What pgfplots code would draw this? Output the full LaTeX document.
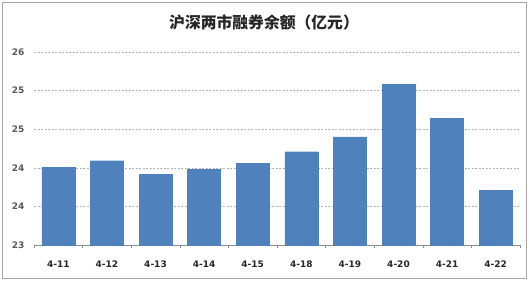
\documentclass[border=0pt]{standalone}
\usepackage{pgfplots}
\pgfplotsset{compat=1.18}
\usepackage{fontspec}
\setmainfont{DejaVu Sans}
\newfontfamily\cjk{Noto Sans CJK SC}
\definecolor{barblue}{HTML}{4F81BD}
\definecolor{gridgray}{HTML}{B3B3B3}
\definecolor{labgray}{HTML}{595959}
\begin{document}
\begin{tikzpicture}
\path (0,0) rectangle (529bp,281bp);
\draw[color=black!35, line width=0.8bp] (2bp,3bp) rectangle (526bp,279bp);
\node[font=\cjk\bfseries\fontsize{15.8bp}{18bp}\selectfont, text=black!85] at (264bp,259bp) {沪深两市融券余额（亿元）};
\begin{axis}[
  at={(34bp,36bp)}, anchor=south west,
  scale only axis, width=486bp, height=193bp,
  ymin=23, ymax=26,
  xmin=-0.5, xmax=9.5,
  ytick={23,23.6,24.2,24.8,25.4,26},
  yticklabels={23,24,24,25,25,26},
  xtick={0,...,9},
  xticklabels={4-11,4-12,4-13,4-14,4-15,4-18,4-19,4-20,4-21,4-22},
  minor xtick={-0.5,0.5,...,9.5},
  major tick length=0pt,
  minor tick length=3bp,
  tick align=outside,
  tick style={color=black!45, line width=0.6bp},
  axis x line*=bottom,
  axis y line*=left,
  ymajorgrids,
  grid style={color=gridgray, dash pattern=on 2bp off 1.5bp, line width=0.6bp},
  x axis line style={draw=black!45, line width=0.8bp},
  y axis line style={draw=none},
  xticklabel style={font=\bfseries\fontsize{9bp}{10bp}\selectfont, text=black!85, yshift=-12bp},
  yticklabel style={font=\bfseries\fontsize{9bp}{10bp}\selectfont, text=labgray, xshift=-6bp},
  ybar, bar width=33bp,
  clip=false,
]
\addplot[fill=barblue, draw=barblue] coordinates {
(0,24.21) (1,24.31) (2,24.10) (3,24.18) (4,24.27)
(5,24.45) (6,24.68) (7,25.50) (8,24.97) (9,23.85)
};
\end{axis}
\end{tikzpicture}
\end{document}
